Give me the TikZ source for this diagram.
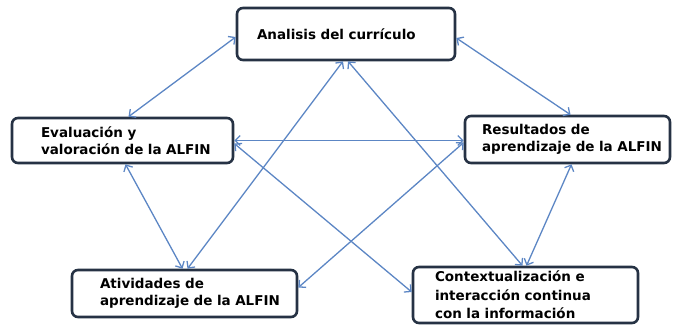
\documentclass[tikz,border=0pt]{standalone}
\usepackage{fontspec}
\setmainfont{DejaVu Sans}
\usetikzlibrary{arrows.meta}
\definecolor{boxline}{RGB}{38, 50, 68}
\definecolor{linkblue}{RGB}{92, 134, 196}

\begin{document}
\begin{tikzpicture}[x=1pt, y=-1pt,
    box/.style={rectangle, draw=boxline, line width=2.6pt, rounded corners=6pt,
                fill=white, align=left, inner xsep=6pt, inner ysep=0pt,
                font=\fontsize{13.5}{17}\selectfont\bfseries},
    link/.style={draw=linkblue, line width=1.3pt,
                 {Straight Barb[length=5pt, width=10pt]}-{Straight Barb[length=5pt, width=10pt]}}]

    \useasboundingbox (0,0) rectangle (677,325);

    % boxes (left indent by \hspace*)
    \node[box, minimum width=218pt, minimum height=52pt, text width=206pt] (curriculo) at (346,34) {\hspace*{14pt}Analisis del currículo};
    \node[box, minimum width=221pt, minimum height=45pt, text width=209pt] (evaluacion) at (122.5,140.5) {\hspace*{23pt}Evaluación y\\\hspace*{23pt}valoración de la ALFIN};
    \node[box, minimum width=205pt, minimum height=47pt, text width=193pt] (resultados) at (567.5,139.5) {\hspace*{11pt}Resultados de\\\hspace*{11pt}aprendizaje de la ALFIN};
    \node[box, minimum width=225pt, minimum height=47pt, text width=213pt] (atividades) at (184.5,293.5) {\hspace*{22pt}Atividades de\\\hspace*{22pt}aprendizaje de la ALFIN};
    \node[box, minimum width=225pt, minimum height=56pt, text width=213pt, font=\fontsize{13.5}{18.5}\selectfont\bfseries] (contexto) at (525.5,295) {\hspace*{16pt}Contextualización e\\\hspace*{16pt}interacción continua\\\hspace*{16pt}con la información};

    % links
    \draw[link] ([yshift=-3pt]curriculo.west) -- ([xshift=6pt]evaluacion.north);
    \draw[link] ([yshift=-4pt]curriculo.east) -- ([xshift=3pt]resultados.north);
    \draw[link] (evaluacion.east) -- ([yshift=-1pt]resultados.west);
    \draw[link] ([xshift=3pt]evaluacion.south) -- ([xshift=-2pt]atividades.north);
    \draw[link] ([xshift=-3pt]curriculo.south) -- ([xshift=3pt]atividades.north);
    \draw[link] ([xshift=2pt]curriculo.south) -- ([xshift=-3pt]contexto.north);
    \draw[link] ([xshift=4pt]resultados.south) -- ([xshift=1pt]contexto.north);
    \draw[link] ([yshift=-3pt]evaluacion.east) -- ([yshift=3pt]contexto.west);
    \draw[link] ([yshift=-3pt]resultados.west) -- ([yshift=6pt]atividades.east);
\end{tikzpicture}
\end{document}
